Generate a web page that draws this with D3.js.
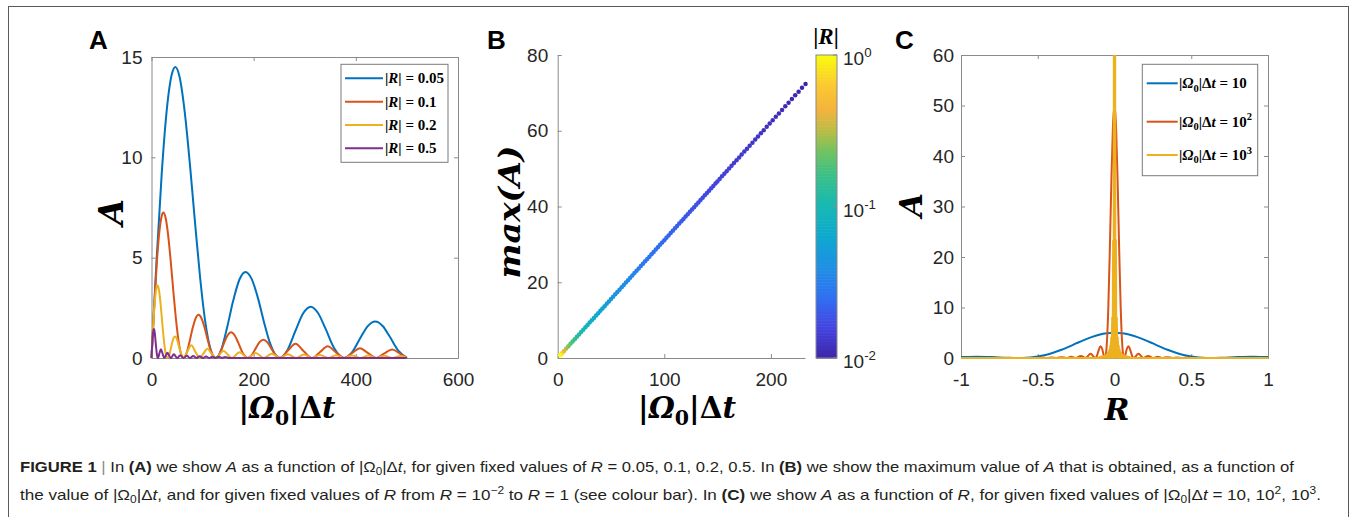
<!DOCTYPE html>
<html lang="en">
<head>
    <meta charset="UTF-8">
    <title>Figure 1</title>
    <style>
        body{ margin:0; background:#fff; }
        svg{ display:block; }
        .tick text{ font-family:"Liberation Sans",Arial,sans-serif; font-size:19px; fill:#262626; }
        .tick line, .domain{ stroke:#8a8a8a; }
        .math{ font-family:"DejaVu Serif",serif; font-weight:bold; fill:#000; }
        .leg{ font-family:"Liberation Serif","Times New Roman",serif; font-weight:bold; fill:#000; }
        .caption{ font-family:"Liberation Sans",Arial,sans-serif; font-size:15px; fill:#231f20; }
        .plab{ font-family:"Liberation Sans",Arial,sans-serif; font-weight:bold; font-size:26px; fill:#000; }
    </style>
    <script src="https://cdn.jsdelivr.net/npm/d3@7"></script>
</head>
<body>
<script>
    const width = 1354
    const height = 517

    // ---- panel A : A vs |Omega0|dt, one curve per |R|  ([x, A])
    const legendA = ["0.05", "0.1", "0.2", "0.5"]
    const aR005 = [[0,0],[10,4.90],[20,9.19],[30,12.39],[40,14.16],[46.6,14.5],[55,14.0],[65,12.27],[75,9.71],[85,6.81],[95,4.05],[105,1.85],[115,0.48],[120,0.13],[125.7,0],
        [136,0.38],[148,1.52],[160,2.86],[172,3.90],[184,4.29],[196,3.94],[208,3.02],[220,1.81],[232,0.74],[242,0.18],[251.3,0],
        [266,0.39],[282,1.37],[297,2.23],[311.6,2.56],[326,2.24],[340,1.50],[358,0.47],[377,0],
        [392,0.27],[408,0.96],[423,1.58],[438,1.82],[453,1.58],[466,1.08],[484,0.34],[500,0.01]]
    const aR01 = [[0,0],[5,2.45],[10,4.60],[15,6.20],[20,7.08],[23.3,7.25],[27.5,7.00],[32.5,6.14],[37.5,4.86],[42.5,3.40],[47.5,2.03],[52.5,0.93],[57.5,0.24],[62.8,0],
        [68,0.19],[74,0.76],[80,1.43],[86,1.95],[92.1,2.15],[98,1.97],[104,1.51],[110,0.91],[116,0.37],[125.7,0],
        [133,0.19],[141,0.68],[148.5,1.11],[155.8,1.28],[163,1.12],[170,0.75],[179,0.23],[188.5,0],
        [196,0.14],[204,0.48],[211.5,0.79],[219,0.91],[226.5,0.79],[233,0.54],[242,0.17],[251.3,0],
        [267,0.37],[282,0.71],[298,0.34],[314.2,0],[330,0.30],[345,0.58],[361,0.28],[377,0],
        [393,0.25],[408,0.49],[424,0.24],[439.8,0],[455,0.22],[471,0.42],[487,0.21],[500,0.01]]
    const aR02 = [[0,0],[2.5,1.22],[5,2.30],[7.5,3.10],[10,3.54],[11.65,3.63],[13.75,3.50],[16.25,3.07],[18.75,2.43],[21.25,1.70],[23.75,1.01],[26.25,0.46],[28.75,0.12],[31.4,0],
        [34,0.10],[37,0.38],[40,0.72],[43,0.98],[46,1.07],[49,0.99],[52,0.75],[55,0.45],[58,0.19],[62.8,0],
        [70.7,0.35],[77.9,0.64],[86.4,0.29],[94.2,0],[102.1,0.24],[109.5,0.46],[117.8,0.21],[125.7,0],
        [141,0.35],[157.1,0],[172.5,0.29],[188.5,0],[204,0.245],[219.9,0],[235.5,0.21],[251.3,0],
        [267,0.19],[282.7,0],[298.5,0.17],[314.2,0],[330,0.15],[345.6,0],[361.5,0.14],[377,0],
        [393,0.13],[408.4,0],[424.5,0.12],[439.8,0],[456,0.11],[471.2,0],[487.5,0.10],[500,0.01]]
    const aR05 = [[0,0],[1,0.49],[2,0.92],[3,1.24],[4,1.42],[4.66,1.45],[5.5,1.40],[6.5,1.23],[7.5,0.97],[8.5,0.68],[9.5,0.41],[10.5,0.19],[11.5,0.05],[12.57,0],
        [15.7,0.25],[18.4,0.43],[21.6,0.22],[25.1,0],[31.2,0.256],[37.7,0],[43.8,0.182],[50.3,0],[56.4,0.142],[62.8,0],
        [69.1,0.116],[75.4,0],[81.7,0.098],[88,0],[94.3,0.085],[100.5,0],[106.8,0.075],[113.1,0],[119.4,0.067],[125.7,0],
        [132,0.06],[138.2,0],[144.5,0.055],[150.8,0],[500,0]]

    // ---- panel B : max(A) vs |Omega0|dt, coloured by |R|
    const bOmega = [232.5,229.2,226.0,222.8,219.7,216.6,213.5,210.5,207.5,204.6,201.7,198.9,196.1,193.3,190.6,187.9,185.3,182.7,180.1,177.6,
        175.1,172.6,170.2,167.8,165.4,163.1,160.8,158.5,156.3,154.1,151.9,149.8,
        148,146,144,142,140,138,136,134,132,130,128,126,124,122,120,118,116,114,112,110,108,106,104,102,100,
        98,96,94,92,90,88,86,84,82,80,78,76,74,72,70,68,66,64,62,60,58,56,54,52,50,
        48,46,44,42,40,38,36,34,32,30,28,26,24,22,20,18,16,14,12,10,8,6,4,3,2.33]
    const bMaxA = [72.35,71.33,70.33,69.34,68.37,67.41,66.44,65.51,64.57,63.67,62.77,61.90,61.03,60.15,59.31,58.47,57.66,56.86,56.05,55.27,
        54.49,53.71,52.97,52.22,51.47,50.76,50.04,49.33,48.64,47.96,47.27,46.62,
        46.06,45.44,44.81,44.19,43.57,42.95,42.32,41.70,41.08,40.46,39.83,39.21,38.59,37.97,37.34,36.72,36.10,35.48,34.85,34.23,33.61,32.99,32.36,31.74,31.12,
        30.50,29.88,29.25,28.63,28.01,27.39,26.76,26.14,25.52,24.90,24.27,23.65,23.03,22.41,21.78,21.16,20.54,19.92,19.29,18.67,18.05,17.43,16.80,16.18,15.56,
        14.94,14.32,13.69,13.07,12.45,11.83,11.20,10.58,9.96,9.34,8.71,8.09,7.47,6.85,6.22,5.60,4.98,4.36,3.73,3.11,2.49,1.87,1.24,0.93,0.725]
    const bAbsR = [0.01002,0.01017,0.01031,0.01046,0.01061,0.01076,0.01091,0.01107,0.01123,0.01139,0.01155,0.01171,0.01188,0.01205,0.01222,0.0124,0.01257,0.01275,0.01294,0.01312,
        0.01331,0.0135,0.01369,0.01389,0.01409,0.01429,0.01449,0.0147,0.01491,0.01512,0.01534,0.01555,
        0.01574,0.01596,0.01618,0.01641,0.01664,0.01688,0.01713,0.01739,0.01765,0.01792,0.0182,0.01849,0.01879,0.0191,0.01942,0.01975,0.02009,0.02044,0.0208,0.02118,0.02157,0.02198,0.0224,0.02284,0.0233,
        0.02378,0.02427,0.02479,0.02533,0.02589,0.02648,0.02709,0.02774,0.02841,0.02913,0.02987,0.03066,0.03149,0.03236,0.03329,0.03426,0.0353,0.03641,0.03758,0.03883,0.04017,0.04161,0.04315,0.04481,0.0466,
        0.04854,0.05065,0.05295,0.05548,0.05825,0.06132,0.06472,0.06853,0.07281,0.07767,0.08321,0.08962,0.09708,0.1059,0.1165,0.1294,0.1456,0.1664,0.1942,0.233,0.2913,0.3883,0.5825,0.7767,1.0]

    // ---- panel C : A vs R, one curve per |Omega0|dt  ([R, A])
    const legendC = ["", "2", "3"]
    const cOmega10 = [[-1,0.18],[-0.95,0.22],[-0.9,0.24],[-0.8,0.18],[-0.7,0.05],[-0.628,0],[-0.6,0.01],[-0.55,0.10],[-0.5,0.29],[-0.45,0.60],[-0.4,1.03],[-0.35,1.58],[-0.3,2.21],[-0.25,2.88],[-0.2,3.54],[-0.15,4.13],[-0.1,4.60],[-0.05,4.90],
        [0,5],[0.05,4.90],[0.1,4.60],[0.15,4.13],[0.2,3.54],[0.25,2.88],[0.3,2.21],[0.35,1.58],[0.4,1.03],[0.45,0.60],[0.5,0.29],[0.55,0.10],[0.6,0.01],[0.628,0],[0.7,0.05],[0.8,0.18],[0.9,0.24],[0.95,0.22],[1,0.18]]
    const cOmega100 = [[-1,0],[-0.503,0],[-0.471,0.09],[-0.44,0],[-0.408,0.12],[-0.377,0],[-0.345,0.17],[-0.314,0],[-0.282,0.25],[-0.2513,0],[-0.219,0.42],[-0.1885,0],[-0.1558,0.82],[-0.1257,0],
        [-0.115,0.39],[-0.104,1.45],[-0.0921,2.33],[-0.08,1.79],[-0.07,0.50],[-0.0628,0],[-0.055,0.96],[-0.05,2.87],[-0.04,10.3],[-0.03,22.1],[-0.02,35.4],[-0.01,45.97],
        [0,50],[0.01,45.97],[0.02,35.4],[0.03,22.1],[0.04,10.3],[0.05,2.87],[0.055,0.96],[0.0628,0],[0.07,0.50],[0.08,1.79],[0.0921,2.33],[0.104,1.45],[0.115,0.39],
        [0.1257,0],[0.1558,0.82],[0.1885,0],[0.219,0.42],[0.2513,0],[0.282,0.25],[0.314,0],[0.345,0.17],[0.377,0],[0.408,0.12],[0.44,0],[0.471,0.09],[0.503,0],[1,0]]
    const cOmega1000 = [[-1,0],[-0.1005,0],[-0.0974,0.21],[-0.0942,0],[-0.0911,0.24],[-0.088,0],[-0.0848,0.28],[-0.0817,0],[-0.0785,0.32],[-0.0754,0],[-0.0722,0.38],[-0.0691,0],
        [-0.066,0.46],[-0.0628,0],[-0.0597,0.56],[-0.0565,0],[-0.0534,0.70],[-0.0503,0],[-0.0471,0.90],[-0.044,0],[-0.0408,1.20],[-0.0377,0],[-0.0345,1.68],[-0.0314,0],
        [-0.0282,2.51],[-0.0251,0],[-0.0219,4.16],[-0.0188,0],[-0.0156,8.2],[-0.0126,0],[-0.0115,3.9],[-0.0104,14.5],[-0.0092,23.3],[-0.008,17.9],[-0.007,5.0],[-0.0063,0],
        [-0.0055,9.6],[-0.005,28.7],[-0.0045,59.8],[-0.004,103],[-0.003,221],[-0.002,354],[0,500],
        [0.002,354],[0.003,221],[0.004,103],[0.0045,59.8],[0.005,28.7],[0.0055,9.6],[0.0063,0],[0.007,5.0],[0.008,17.9],[0.0092,23.3],[0.0104,14.5],[0.0115,3.9],[0.0126,0],
        [0.0156,8.2],[0.0188,0],[0.0219,4.16],[0.0251,0],[0.0282,2.51],[0.0314,0],[0.0345,1.68],[0.0377,0],[0.0408,1.20],[0.044,0],[0.0471,0.90],[0.0503,0],
        [0.0534,0.70],[0.0565,0],[0.0597,0.56],[0.0628,0],[0.066,0.46],[0.0691,0],[0.0722,0.38],[0.0754,0],[0.0785,0.32],[0.0817,0],[0.0848,0.28],[0.088,0],
        [0.0911,0.24],[0.0942,0],[0.0974,0.21],[0.1005,0],[1,0]]

    // ---- ticks
    const ticksAx = [0, 200, 400, 600]
    const ticksAy = [0, 5, 10, 15]
    const ticksBx = [0, 100, 200]
    const ticksBy = [0, 20, 40, 60, 80]
    const ticksCx = [-1, -0.5, 0, 0.5, 1]
    const ticksCy = [0, 10, 20, 30, 40, 50, 60]
    const cbarTicks = [0.01, 0.1, 1]
    const cbarExp = ["-2", "-1", "0"]

    const lineColors = ["#0072bd", "#d95319", "#edb120", "#7e2f8e"]
    const parula = ["#3e26a8","#4444e0","#3070f2","#1f90e4","#0ea8cf","#17b8b4","#38c08a","#6fc363","#b8bd44","#f4b33d","#fbc830","#f9fb0e"]
    const parulaPos = [0,0.1,0.2,0.3,0.4,0.5,0.6,0.68,0.75,0.82,0.9,1]

    const captionLine1 = [["FIGURE 1","b"],[" | ","g"],["In "],["(A)","b"],[" we show "],["A","i"],[" as a function of |Ω"],["0","_"],["|Δ"],["t","i"],
        [", for given fixed values of "],["R","i"],[" = 0.05, 0.1, 0.2, 0.5. In "],["(B)","b"],[" we show the maximum value of "],["A","i"],[" that is obtained, as a function of"]]
    const captionLine2 = [["the value of |Ω"],["0","_"],["|Δ"],["t","i"],[", and for given fixed values of "],["R","i"],[" from "],["R","i"],[" = 10"],["−2","^"],[" to "],["R","i"],
        [" = 1 (see colour bar). In "],["(C)","b"],[" we show "],["A","i"],[" as a function of "],["R","i"],[", for given fixed values of |Ω"],["0","_"],["|Δ"],["t","i"],
        [" = 10, 10"],["2","^"],[", 10"],["3","^"],["."]]

    const omegaLabel = [["|"],["Ω","i"],["0","_"],["|Δ"],["t","i"]]

    function rich(sel, parts, fs){
        let off = 0
        sel.style("font-size", fs + "px")
        parts.forEach(([t, f = ""]) => {
            const ts = sel.append("tspan").text(t)
            if (f.includes("b")) ts.attr("font-weight", "bold")
            if (f.includes("i")) ts.attr("font-style", "italic")
            if (f.includes("g")) ts.attr("fill", "#8a8a8a")
            let target = 0
            if (f.includes("_")) { target = 0.22 * fs; ts.style("font-size", 0.7 * fs + "px") }
            if (f.includes("^")) { target = -0.42 * fs; ts.style("font-size", 0.7 * fs + "px") }
            if (target !== off) { ts.attr("dy", target - off); off = target }
        })
        return sel
    }

    let svg = d3.select("body").append("svg")
        .attr("width", width).attr("height", height)

    svg.append("rect").attr("x", 8.5).attr("y", 6.5).attr("width", 1340).attr("height", 600)
        .attr("fill", "none").attr("stroke", "#5a5a5a")

    function makeAxes(o){
        const x = d3.scaleLinear().domain(o.xDomain).range(o.xRange)
        const y = d3.scaleLinear().domain(o.yDomain).range(o.yRange)
        const g = svg.append("g")
        const fmt = d => String(d)
        g.append("g").attr("transform", `translate(0,${o.yRange[0]})`)
            .call(d3.axisBottom(x).tickValues(o.xTicks).tickSize(-4).tickSizeOuter(0).tickPadding(15).tickFormat(fmt))
        g.append("g").attr("transform", `translate(${o.xRange[0]},0)`)
            .call(d3.axisLeft(y).tickValues(o.yTicks).tickSize(-4).tickSizeOuter(0).tickPadding(o.pad).tickFormat(fmt))
        if (o.box) {
            g.append("g").attr("transform", `translate(0,${o.yRange[1]})`)
                .call(d3.axisTop(x).tickValues(o.xTicks).tickSize(-4).tickSizeOuter(0).tickFormat(""))
            g.append("g").attr("transform", `translate(${o.xRange[1]},0)`)
                .call(d3.axisRight(y).tickValues(o.yTicks).tickSize(-4).tickSizeOuter(0).tickFormat(""))
        }
        return {g, x, y}
    }

    const mkLine = (x, y) => d3.line().x(d => x(d[0])).y(d => y(d[1])).curve(d3.curveMonotoneX)

    // ================= panel A
    const pA = makeAxes({xDomain:[0,600], xRange:[151.5,458], yDomain:[0,15], yRange:[358,57],
        xTicks:ticksAx, yTicks:ticksAy, pad:9, box:true})
    const lineA = mkLine(pA.x, pA.y)
    ;[aR005, aR01, aR02, aR05].forEach((s, i) => {
        pA.g.append("path").attr("d", lineA(s)).attr("fill", "none")
            .attr("stroke", lineColors[i]).attr("stroke-width", 2)
    })
    svg.append("text").attr("class", "plab").attr("x", 89).attr("y", 49).text("A")
    svg.append("text").attr("class", "math").attr("font-size", 34).attr("font-style", "italic")
        .attr("text-anchor", "middle").attr("transform", "translate(123,212) rotate(-90)").text("A")
    rich(svg.append("text").attr("class", "math").attr("text-anchor", "middle")
        .attr("x", 287).attr("y", 418).attr("textLength", 97).attr("lengthAdjust", "spacingAndGlyphs"), omegaLabel, 30)

    const legA = svg.append("g")
    legA.append("rect").attr("x", 341).attr("y", 64.3).attr("width", 107).attr("height", 98)
        .attr("fill", "#fff").attr("stroke", "#7a7a7a")
    const rowsA = d3.scaleLinear().domain([0, 3]).range([78.3, 148.3])
    legendA.forEach((v, i) => {
        legA.append("line").attr("x1", 345).attr("x2", 383).attr("y1", rowsA(i)).attr("y2", rowsA(i))
            .attr("stroke", lineColors[i]).attr("stroke-width", 2)
        rich(legA.append("text").attr("class", "leg").attr("x", 385).attr("y", rowsA(i) + 5),
            [["|"], ["R", "i"], ["| = " + v]], 15)
    })

    // ================= panel B
    const pB = makeAxes({xDomain:[0,232], xRange:[557.7,805], yDomain:[0,80], yRange:[358,55],
        xTicks:ticksBx, yTicks:ticksBy, pad:9.5, box:false})
    const tOfR = d3.scaleLog().domain([0.01, 1]).range([0, 1])
    const parulaScale = d3.scaleLinear().domain(parulaPos).range(parula).interpolate(d3.interpolateRgb)
    const colorR = r => parulaScale(tOfR(r))

    pB.g.selectAll("circle.pt").data(bOmega).enter().append("circle")
        .attr("class", "pt")
        .attr("cx", d => pB.x(d))
        .attr("cy", (d, i) => pB.y(bMaxA[i]))
        .attr("r", 2.25)
        .attr("fill", (d, i) => colorR(bAbsR[i]))

    svg.append("text").attr("class", "plab").attr("x", 487).attr("y", 49).text("B")
    svg.append("text").attr("class", "math").attr("font-size", 30).attr("font-style", "italic")
        .attr("text-anchor", "middle").attr("transform", "translate(520,212) rotate(-90)")
        .attr("textLength", 133).attr("lengthAdjust", "spacingAndGlyphs").text("max(A)")
    rich(svg.append("text").attr("class", "math").attr("text-anchor", "middle")
        .attr("x", 687).attr("y", 418).attr("textLength", 98).attr("lengthAdjust", "spacingAndGlyphs"), omegaLabel, 30)

    // colour bar
    const cb = svg.append("g")
    const cbY = d3.scaleLog().domain([0.01, 1]).range([358, 55])
    const slices = d3.range(0, 200)
    const sliceH = (358 - 55) / slices.length
    cb.selectAll("rect.sl").data(slices).enter().append("rect").attr("class", "sl")
        .attr("x", 816).attr("width", 21)
        .attr("y", d => 358 - (d + 1) * sliceH).attr("height", sliceH + 0.6)
        .attr("fill", d => parulaScale((d + 0.5) / slices.length))
    cb.append("rect").attr("x", 816).attr("y", 55).attr("width", 21).attr("height", 303)
        .attr("fill", "none").attr("stroke", "#8a8a8a")
    cbarTicks.forEach((t, i) => {
        cb.append("line").attr("x1", 833).attr("x2", 837).attr("y1", cbY(t)).attr("y2", cbY(t)).attr("stroke", "#8a8a8a")
        rich(cb.append("text").attr("x", 843).attr("y", cbY(t) + 10)
            .attr("font-family", "Liberation Sans, Arial, sans-serif").attr("fill", "#262626"),
            [["10"], [cbarExp[i], "^"]], 19)
    })
    rich(svg.append("text").attr("class", "leg").attr("text-anchor", "middle")
        .attr("x", 826).attr("y", 44), [["|"], ["R", "i"], ["|"]], 23)

    // ================= panel C
    const pC = makeAxes({xDomain:[-1,1], xRange:[961,1268], yDomain:[0,60], yRange:[358,55],
        xTicks:ticksCx, yTicks:ticksCy, pad:7, box:true})
    svg.append("clipPath").attr("id", "clipC").append("rect")
        .attr("x", 955).attr("y", 55).attr("width", 320).attr("height", 310)
    const lineC = mkLine(pC.x, pC.y)
    ;[cOmega10, cOmega100, cOmega1000].forEach((s, i) => {
        pC.g.append("path").attr("d", lineC(s)).attr("fill", "none").attr("clip-path", "url(#clipC)")
            .attr("stroke", lineColors[i]).attr("stroke-width", 2)
    })
    svg.append("text").attr("class", "plab").attr("x", 895).attr("y", 49).text("C")
    svg.append("text").attr("class", "math").attr("font-size", 31).attr("font-style", "italic")
        .attr("text-anchor", "middle").attr("transform", "translate(922,205) rotate(-90)").text("A")
    svg.append("text").attr("class", "math").attr("font-size", 30).attr("font-style", "italic")
        .attr("text-anchor", "middle").attr("x", 1117).attr("y", 420).text("R")

    const legC = svg.append("g")
    legC.append("rect").attr("x", 1142.3).attr("y", 64.3).attr("width", 115.4).attr("height", 111.4)
        .attr("fill", "#fff").attr("stroke", "#7a7a7a")
    const rowsC = [83.3, 121.7, 155]
    legendC.forEach((v, i) => {
        legC.append("line").attr("x1", 1146.7).attr("x2", 1177.7).attr("y1", rowsC[i]).attr("y2", rowsC[i])
            .attr("stroke", lineColors[i]).attr("stroke-width", 2)
        const parts = [["|"], ["Ω", "i"], ["0", "_"], ["|Δ"], ["t", "i"], [" = 10"]]
        if (v) parts.push([v, "^"])
        rich(legC.append("text").attr("class", "leg").attr("x", 1179).attr("y", rowsC[i] + 5), parts, 15)
    })

    // ================= caption
    rich(svg.append("text").attr("class", "caption").attr("x", 20).attr("y", 472)
        .attr("textLength", 1274).attr("lengthAdjust", "spacingAndGlyphs"), captionLine1, 15)
    rich(svg.append("text").attr("class", "caption").attr("x", 20).attr("y", 500)
        .attr("textLength", 1301).attr("lengthAdjust", "spacingAndGlyphs"), captionLine2, 15)
</script>
</body>
</html>
